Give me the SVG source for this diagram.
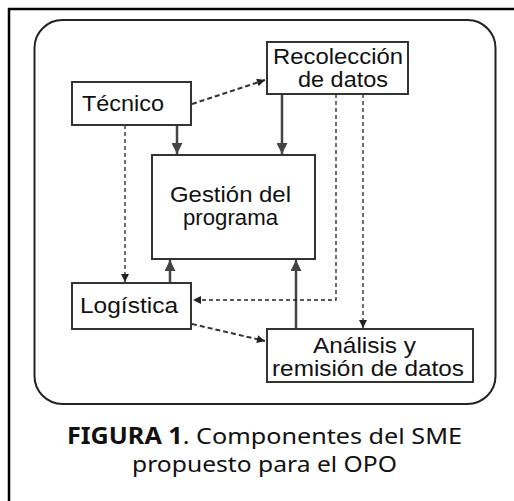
<svg xmlns="http://www.w3.org/2000/svg" width="514" height="501" viewBox="0 0 514 501">
<style>
.box{fill:#fff;stroke:#333;stroke-width:2}
.lbl{font-family:"Liberation Sans",Arial,sans-serif;font-size:22.5px;fill:#111}
.solid{fill:none;stroke:#444;stroke-width:2.5}
.dthin{fill:none;stroke:#222;stroke-width:1.3;stroke-dasharray:4 3}
.dthick{fill:none;stroke:#333;stroke-width:2;stroke-dasharray:5 3}
.cap{font-family:"Noto Sans","Open Sans",sans-serif;font-size:22.5px;fill:#111}
</style>
<defs>
<marker id="ah" viewBox="0 0 10 10" refX="10" refY="5" markerWidth="12" markerHeight="11" markerUnits="userSpaceOnUse" orient="auto"><path d="M0,0 L10,5 L0,10 z" fill="#444"/></marker>
<marker id="ad" viewBox="0 0 10 10" refX="10" refY="5" markerWidth="10" markerHeight="8" markerUnits="userSpaceOnUse" orient="auto"><path d="M0,0 L10,5 L0,10 z" fill="#222"/></marker>
</defs>
<rect x="0" y="0" width="514" height="501" fill="#fff"/>
<rect x="9" y="9" width="520" height="510" fill="none" stroke="#000" stroke-width="2.5"/>
<rect x="34.5" y="20" width="461" height="384" rx="28" ry="28" fill="none" stroke="#222" stroke-width="2"/>
<g id="connectors">
<path class="solid" d="M177,125 V154" marker-end="url(#ah)"/>
<path class="solid" d="M282,94 V154" marker-end="url(#ah)"/>
<path class="solid" d="M170,283 V260" marker-end="url(#ah)"/>
<path class="solid" d="M296,329 V260" marker-end="url(#ah)"/>
<path class="dthin" d="M125,125 V282" marker-end="url(#ad)"/>
<path class="dthin" d="M336,94 V300 H193" marker-end="url(#ad)"/>
<path class="dthin" d="M363,94 V328" marker-end="url(#ad)"/>
<path class="dthick" d="M192,104 L265,80" marker-end="url(#ad)"/>
<path class="dthick" d="M192,324 L265,341" marker-end="url(#ad)"/>
</g>
<g id="tecnico">
<rect class="box" x="72" y="82" width="119" height="43"/>
<text class="lbl" x="82" y="111" textLength="82" lengthAdjust="spacingAndGlyphs">Técnico</text>
</g>
<g id="recoleccion">
<rect class="box" x="267" y="42" width="141" height="52"/>
<text class="lbl" x="273" y="64" textLength="130" lengthAdjust="spacingAndGlyphs">Recolección</text>
<text class="lbl" x="298" y="87" textLength="90" lengthAdjust="spacingAndGlyphs">de datos</text>
</g>
<g id="gestion">
<rect class="box" x="152" y="155" width="163" height="104"/>
<text class="lbl" x="170" y="202" textLength="121" lengthAdjust="spacingAndGlyphs">Gestión del</text>
<text class="lbl" x="183" y="225" textLength="95" lengthAdjust="spacingAndGlyphs">programa</text>
</g>
<g id="logistica">
<rect class="box" x="72" y="283" width="119" height="46"/>
<text class="lbl" x="80" y="313" textLength="98" lengthAdjust="spacingAndGlyphs">Logística</text>
</g>
<g id="analisis">
<rect class="box" x="267" y="329" width="206" height="53"/>
<text class="lbl" x="313" y="353" textLength="103" lengthAdjust="spacingAndGlyphs">Análisis y</text>
<text class="lbl" x="272" y="376" textLength="192" lengthAdjust="spacingAndGlyphs">remisión de datos</text>
</g>
<g id="caption">
<text class="cap" x="67" y="444" textLength="395" lengthAdjust="spacingAndGlyphs"><tspan font-weight="bold">FIGURA 1</tspan>. Componentes del SME</text>
<text class="cap" x="132" y="472" textLength="265" lengthAdjust="spacingAndGlyphs">propuesto para el OPO</text>
</g>
</svg>
